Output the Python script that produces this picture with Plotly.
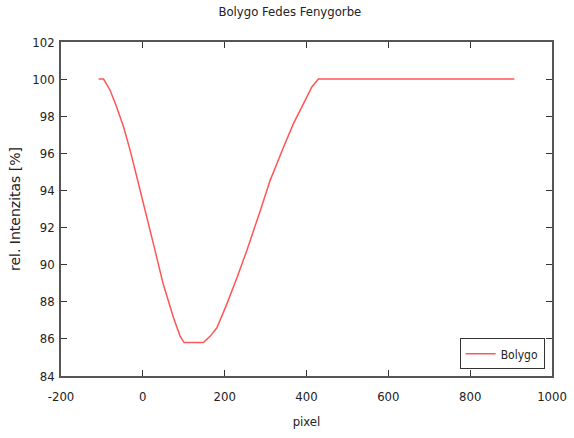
import plotly.graph_objects as go

# Relative intensity of the star during the planet transit, sampled along the pixel axis
pixel = [-108, -96, -80, -64, -47, -31, -15, 2, 26, 50, 75, 91, 101, 148,
         165, 181, 205, 230, 254, 287, 311, 344, 368, 393, 413, 429, 908]
intensity = [100.0, 100.0, 99.4, 98.5, 97.42, 96.16, 94.75, 93.3, 91.11, 88.94, 87.14,
             86.15, 85.8, 85.8, 86.15, 86.6, 87.86, 89.3, 90.75, 92.91, 94.53, 96.34,
             97.6, 98.69, 99.58, 100.0, 100.0]

x_ticks = [-200, 0, 200, 400, 600, 800, 1000]
x_labels = ["-200", "0", "200", "400", "600", "800", "1000"]
y_ticks = [84, 86, 88, 90, 92, 94, 96, 98, 100, 102]

font_narrow = "DejaVu Sans Condensed, Liberation Sans Narrow, sans-serif"
text_color = "#222222"

fig = go.Figure()
fig.add_trace(go.Scatter(
    x=pixel, y=intensity, mode="lines", name="Bolygo",
    line=dict(color="rgb(255,85,85)", width=1.5),
))

axis_common = dict(
    showline=True, linecolor="#555555", linewidth=1.5, mirror="ticks",
    ticks="inside", ticklen=6, tickcolor="#333333", tickwidth=1,
    showgrid=False, zeroline=False, automargin=False,
    tickfont=dict(family=font_narrow, size=13, color=text_color),
)

fig.update_layout(
    width=574, height=438,
    margin=dict(l=61, r=22, t=42, b=62),
    paper_bgcolor="white", plot_bgcolor="white",
    title=dict(text="Bolygo Fedes Fenygorbe", x=0.505, xanchor="center", y=0.975, yanchor="middle",
               font=dict(family=font_narrow, size=13, color=text_color)),
    xaxis=dict(range=[-200, 1000], tickvals=x_ticks, ticktext=x_labels,
               ticklabelstandoff=8,
               title=dict(text="pixel", font=dict(family=font_narrow, size=13, color=text_color),
                          standoff=14),
               **axis_common),
    yaxis=dict(range=[84, 102], tickvals=y_ticks,
               ticklabelstandoff=2,
               title=dict(text="rel. Intenzitas [%]",
                          font=dict(family="DejaVu Sans, sans-serif", size=14, color=text_color),
                          standoff=8),
               **axis_common),
    legend=dict(x=0.985, y=0.02, xanchor="right", yanchor="bottom",
                bordercolor="#333333", borderwidth=1, bgcolor="white",
                font=dict(family=font_narrow, size=12, color=text_color),
                itemwidth=30, tracegroupgap=0),
    showlegend=True,
)

fig.write_html("out.html")
